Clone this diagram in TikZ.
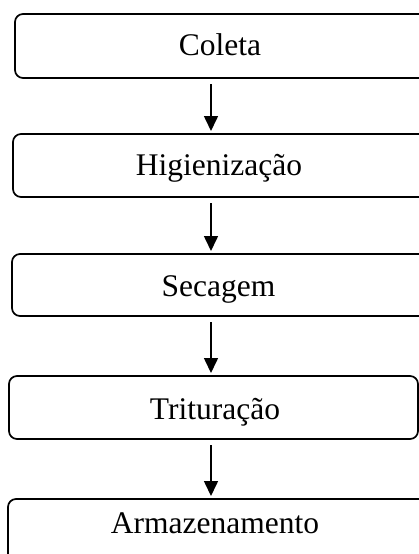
\documentclass[tikz,border=0pt]{standalone}
\usepackage{fontspec}
\setmainfont{Liberation Serif}
\usetikzlibrary{arrows.meta}

\tikzset{
  stage/.style={draw=black, line width=1.7pt, rounded corners=8pt, inner sep=0pt, outer sep=0pt},
  caption/.style={anchor=base, inner sep=0pt, font=\fontsize{31.5}{36}\selectfont},
  flow/.style={line width=1.6pt, -{Triangle[width=14pt,length=15pt]}, shorten <=6pt, shorten >=3pt}
}

\begin{document}
\begin{tikzpicture}[x=1pt, y=-1pt]
  \path[use as bounding box] (0,0) rectangle (419,554);
  \begin{scope}
  \clip (0,0) rectangle (419,554);

  % process stages, running past the right margin
  \node[stage, minimum width=445pt, minimum height=64pt] (s1) at (237.5,46) {};
  \node[stage, minimum width=447pt, minimum height=63pt] (s2) at (236.5,165.5) {};
  \node[stage, minimum width=448pt, minimum height=62pt] (s3) at (236,285) {};
  \node[stage, minimum width=409pt, minimum height=63pt] (s4) at (213.5,407.5) {};
  \node[stage, minimum width=450pt, minimum height=63pt] (s5) at (233,530.5) {};
  \end{scope}

  % stage names
  \node[caption] (t1) at (220,55) {Coleta};
  \node[caption] (t2) at (219,175) {Higienização};
  \node[caption] (t3) at (218.5,296) {Secagem};
  \node[caption] (t4) at (215,419) {Trituração};
  \node[caption] (t5) at (215,533) {Armazenamento};

  % arrows along one vertical axis
  \coordinate (ax) at (211,0);
  \draw[flow] (s1.south -| ax) -- (s2.north -| ax);
  \draw[flow] (s2.south -| ax) -- (s3.north -| ax);
  \draw[flow] (s3.south -| ax) -- (s4.north -| ax);
  \draw[flow] (s4.south -| ax) -- (s5.north -| ax);
\end{tikzpicture}
\end{document}
